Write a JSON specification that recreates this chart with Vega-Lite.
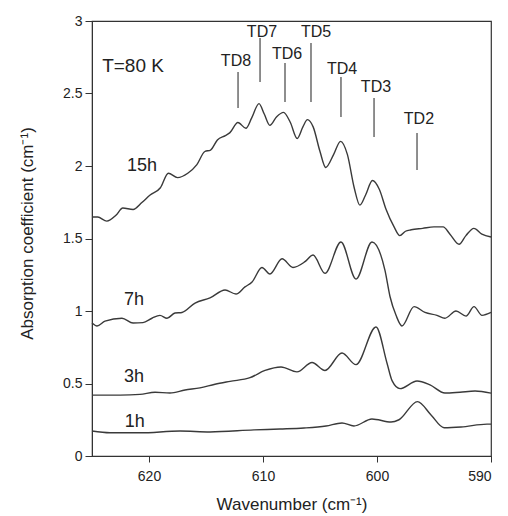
{
  "$schema": "https://vega.github.io/schema/vega-lite/v6.json",
  "width": 399,
  "height": 435,
  "autosize": "none",
  "padding": {"left": 92, "top": 21, "right": 17, "bottom": 60},
  "background": "white",
  "config": {
    "font": "Liberation Sans",
    "view": {"stroke": "#333", "strokeWidth": 1.2},
    "axis": {
      "grid": false,
      "domainColor": "#333",
      "tickColor": "#333",
      "labelColor": "#222",
      "titleColor": "#222",
      "labelFontSize": 14,
      "titleFontSize": 17,
      "titleFontWeight": "normal",
      "labelFont": "Liberation Sans",
      "titleFont": "Liberation Sans"
    }
  },
  "datasets": {
    "spectra": [
      {"series": "15h", "wn": 625.0, "a": 1.648},
      {"series": "15h", "wn": 624.5, "a": 1.648},
      {"series": "15h", "wn": 623.7, "a": 1.62},
      {"series": "15h", "wn": 622.9, "a": 1.66},
      {"series": "15h", "wn": 622.3, "a": 1.71},
      {"series": "15h", "wn": 621.4, "a": 1.70},
      {"series": "15h", "wn": 620.6, "a": 1.75},
      {"series": "15h", "wn": 619.9, "a": 1.80},
      {"series": "15h", "wn": 619.0, "a": 1.85},
      {"series": "15h", "wn": 618.3, "a": 1.95},
      {"series": "15h", "wn": 617.5, "a": 1.92},
      {"series": "15h", "wn": 616.6, "a": 1.95},
      {"series": "15h", "wn": 615.8, "a": 2.01},
      {"series": "15h", "wn": 615.1, "a": 2.10},
      {"series": "15h", "wn": 614.6, "a": 2.11},
      {"series": "15h", "wn": 614.0, "a": 2.18},
      {"series": "15h", "wn": 613.3, "a": 2.21},
      {"series": "15h", "wn": 612.9, "a": 2.23},
      {"series": "15h", "wn": 612.2, "a": 2.30},
      {"series": "15h", "wn": 611.5, "a": 2.26},
      {"series": "15h", "wn": 611.0, "a": 2.33},
      {"series": "15h", "wn": 610.35, "a": 2.43},
      {"series": "15h", "wn": 609.9, "a": 2.36},
      {"series": "15h", "wn": 609.4, "a": 2.28},
      {"series": "15h", "wn": 608.8, "a": 2.34},
      {"series": "15h", "wn": 608.2, "a": 2.37},
      {"series": "15h", "wn": 607.6, "a": 2.30},
      {"series": "15h", "wn": 607.0, "a": 2.19},
      {"series": "15h", "wn": 606.5, "a": 2.27},
      {"series": "15h", "wn": 606.1, "a": 2.32},
      {"series": "15h", "wn": 605.6, "a": 2.27},
      {"series": "15h", "wn": 605.0, "a": 2.10},
      {"series": "15h", "wn": 604.5, "a": 1.99},
      {"series": "15h", "wn": 603.8, "a": 2.08},
      {"series": "15h", "wn": 603.2, "a": 2.17},
      {"series": "15h", "wn": 602.6, "a": 2.08},
      {"series": "15h", "wn": 602.0, "a": 1.85},
      {"series": "15h", "wn": 601.5, "a": 1.73},
      {"series": "15h", "wn": 601.0, "a": 1.80},
      {"series": "15h", "wn": 600.4, "a": 1.90},
      {"series": "15h", "wn": 599.8, "a": 1.84},
      {"series": "15h", "wn": 599.2, "a": 1.70},
      {"series": "15h", "wn": 598.5, "a": 1.58},
      {"series": "15h", "wn": 598.0, "a": 1.52},
      {"series": "15h", "wn": 597.5, "a": 1.55},
      {"series": "15h", "wn": 597.0, "a": 1.56},
      {"series": "15h", "wn": 596.0, "a": 1.57},
      {"series": "15h", "wn": 595.0, "a": 1.58},
      {"series": "15h", "wn": 594.2, "a": 1.58},
      {"series": "15h", "wn": 593.6, "a": 1.53},
      {"series": "15h", "wn": 592.8, "a": 1.46},
      {"series": "15h", "wn": 592.2, "a": 1.52},
      {"series": "15h", "wn": 591.5, "a": 1.57},
      {"series": "15h", "wn": 590.8, "a": 1.53},
      {"series": "15h", "wn": 590.0, "a": 1.51},
      {"series": "7h", "wn": 625.0, "a": 0.917},
      {"series": "7h", "wn": 624.56, "a": 0.897},
      {"series": "7h", "wn": 623.86, "a": 0.93},
      {"series": "7h", "wn": 622.37, "a": 0.95},
      {"series": "7h", "wn": 621.4, "a": 0.917},
      {"series": "7h", "wn": 620.53, "a": 0.92},
      {"series": "7h", "wn": 619.74, "a": 0.95},
      {"series": "7h", "wn": 619.04, "a": 0.97},
      {"series": "7h", "wn": 618.42, "a": 0.95},
      {"series": "7h", "wn": 617.72, "a": 0.986},
      {"series": "7h", "wn": 617.11, "a": 0.99},
      {"series": "7h", "wn": 615.96, "a": 1.055},
      {"series": "7h", "wn": 614.65, "a": 1.09},
      {"series": "7h", "wn": 613.33, "a": 1.145},
      {"series": "7h", "wn": 612.37, "a": 1.117},
      {"series": "7h", "wn": 611.58, "a": 1.166},
      {"series": "7h", "wn": 610.96, "a": 1.20},
      {"series": "7h", "wn": 610.09, "a": 1.30},
      {"series": "7h", "wn": 609.39, "a": 1.255},
      {"series": "7h", "wn": 608.33, "a": 1.36},
      {"series": "7h", "wn": 607.37, "a": 1.30},
      {"series": "7h", "wn": 606.32, "a": 1.34},
      {"series": "7h", "wn": 605.61, "a": 1.386},
      {"series": "7h", "wn": 604.56, "a": 1.26},
      {"series": "7h", "wn": 603.16, "a": 1.476},
      {"series": "7h", "wn": 601.84, "a": 1.22},
      {"series": "7h", "wn": 600.44, "a": 1.476},
      {"series": "7h", "wn": 599.3, "a": 1.28},
      {"series": "7h", "wn": 598.86, "a": 1.10},
      {"series": "7h", "wn": 598.33, "a": 0.97},
      {"series": "7h", "wn": 597.81, "a": 0.897},
      {"series": "7h", "wn": 596.75, "a": 1.03},
      {"series": "7h", "wn": 595.79, "a": 0.99},
      {"series": "7h", "wn": 594.74, "a": 0.97},
      {"series": "7h", "wn": 594.04, "a": 0.95},
      {"series": "7h", "wn": 593.07, "a": 1.0},
      {"series": "7h", "wn": 592.19, "a": 0.965},
      {"series": "7h", "wn": 591.49, "a": 1.03},
      {"series": "7h", "wn": 590.79, "a": 0.97},
      {"series": "7h", "wn": 590.0, "a": 0.99},
      {"series": "3h", "wn": 625.0, "a": 0.42},
      {"series": "3h", "wn": 622.54, "a": 0.42},
      {"series": "3h", "wn": 620.79, "a": 0.425},
      {"series": "3h", "wn": 619.47, "a": 0.44},
      {"series": "3h", "wn": 618.16, "a": 0.434},
      {"series": "3h", "wn": 616.84, "a": 0.455},
      {"series": "3h", "wn": 615.53, "a": 0.47},
      {"series": "3h", "wn": 614.21, "a": 0.495},
      {"series": "3h", "wn": 612.89, "a": 0.515},
      {"series": "3h", "wn": 611.14, "a": 0.54},
      {"series": "3h", "wn": 609.82, "a": 0.59},
      {"series": "3h", "wn": 608.42, "a": 0.614},
      {"series": "3h", "wn": 607.02, "a": 0.58},
      {"series": "3h", "wn": 605.7, "a": 0.645},
      {"series": "3h", "wn": 604.56, "a": 0.59},
      {"series": "3h", "wn": 603.07, "a": 0.71},
      {"series": "3h", "wn": 601.84, "a": 0.63},
      {"series": "3h", "wn": 600.09, "a": 0.89},
      {"series": "3h", "wn": 599.12, "a": 0.64},
      {"series": "3h", "wn": 598.68, "a": 0.52},
      {"series": "3h", "wn": 597.98, "a": 0.465},
      {"series": "3h", "wn": 596.49, "a": 0.517},
      {"series": "3h", "wn": 595.35, "a": 0.49},
      {"series": "3h", "wn": 594.04, "a": 0.434},
      {"series": "3h", "wn": 592.72, "a": 0.44},
      {"series": "3h", "wn": 591.4, "a": 0.448},
      {"series": "3h", "wn": 590.0, "a": 0.434},
      {"series": "1h", "wn": 625.0, "a": 0.172},
      {"series": "1h", "wn": 623.42, "a": 0.16},
      {"series": "1h", "wn": 620.79, "a": 0.16},
      {"series": "1h", "wn": 617.28, "a": 0.172},
      {"series": "1h", "wn": 614.65, "a": 0.166},
      {"series": "1h", "wn": 610.79, "a": 0.18},
      {"series": "1h", "wn": 608.51, "a": 0.186},
      {"series": "1h", "wn": 606.4, "a": 0.193},
      {"series": "1h", "wn": 604.47, "a": 0.207},
      {"series": "1h", "wn": 603.07, "a": 0.228},
      {"series": "1h", "wn": 602.02, "a": 0.207},
      {"series": "1h", "wn": 600.44, "a": 0.255},
      {"series": "1h", "wn": 598.77, "a": 0.234},
      {"series": "1h", "wn": 598.07, "a": 0.25},
      {"series": "1h", "wn": 596.45, "a": 0.375},
      {"series": "1h", "wn": 595.26, "a": 0.283},
      {"series": "1h", "wn": 594.12, "a": 0.195},
      {"series": "1h", "wn": 592.63, "a": 0.2},
      {"series": "1h", "wn": 590.35, "a": 0.22},
      {"series": "1h", "wn": 590.0, "a": 0.22}
    ],
    "modes": [
      {"label": "TD8", "wn": 612.19, "top": 2.648, "bottom": 2.40, "text_wn": 612.37, "text_a": 2.724},
      {"label": "TD7", "wn": 610.26, "top": 2.883, "bottom": 2.579, "text_wn": 610.09, "text_a": 2.924},
      {"label": "TD6", "wn": 608.07, "top": 2.71, "bottom": 2.441, "text_wn": 607.89, "text_a": 2.772},
      {"label": "TD5", "wn": 605.79, "top": 2.848, "bottom": 2.441, "text_wn": 605.35, "text_a": 2.924},
      {"label": "TD4", "wn": 603.16, "top": 2.614, "bottom": 2.338, "text_wn": 603.07, "text_a": 2.669},
      {"label": "TD3", "wn": 600.26, "top": 2.469, "bottom": 2.2, "text_wn": 600.09, "text_a": 2.545},
      {"label": "TD2", "wn": 596.49, "top": 2.228, "bottom": 1.972, "text_wn": 596.32, "text_a": 2.324}
    ],
    "curveLabels": [
      {"label": "15h", "wn": 620.61, "a": 2.0},
      {"label": "7h", "wn": 621.32, "a": 1.076},
      {"label": "3h", "wn": 621.32, "a": 0.545},
      {"label": "1h", "wn": 621.25, "a": 0.235}
    ],
    "notes": [
      {"label": "T=80 K", "wn": 621.4, "a": 2.69}
    ]
  },
  "layer": [
    {
      "data": {"name": "spectra"},
      "mark": {"type": "line", "interpolate": "monotone", "color": "#3a3a3a", "strokeWidth": 1.4},
      "encoding": {
        "x": {
          "field": "wn",
          "type": "quantitative",
          "scale": {"domain": [590, 625], "reverse": true, "nice": false, "zero": false},
          "axis": {
            "title": "Wavenumber (cm⁻¹)",
            "values": [590, 600, 610, 620],
            "tickSize": 6,
            "labelPadding": 7,
            "titlePadding": 13,
            "format": "~g"
          }
        },
        "y": {
          "field": "a",
          "type": "quantitative",
          "scale": {"domain": [0, 3], "nice": false},
          "axis": {
            "title": "Absorption coefficient (cm⁻¹)",
            "values": [0, 0.5, 1, 1.5, 2, 2.5, 3],
            "format": "~g",
            "tickSize": 7,
            "labelPadding": 3,
            "titleX": -65,
            "titleY": 212,
            "titleAngle": -90,
            "titleAlign": "center",
            "titleBaseline": "middle"
          }
        },
        "detail": {"field": "series", "type": "nominal"}
      }
    },
    {
      "data": {"name": "modes"},
      "mark": {"type": "rule", "color": "#444", "strokeWidth": 1.2},
      "encoding": {
        "x": {"field": "wn", "type": "quantitative"},
        "y": {"field": "top", "type": "quantitative"},
        "y2": {"field": "bottom"}
      }
    },
    {
      "data": {"name": "modes"},
      "mark": {"type": "text", "fontSize": 16, "color": "#222", "align": "center", "baseline": "middle"},
      "encoding": {
        "x": {"field": "text_wn", "type": "quantitative"},
        "y": {"field": "text_a", "type": "quantitative"},
        "text": {"field": "label"}
      }
    },
    {
      "data": {"name": "curveLabels"},
      "mark": {"type": "text", "fontSize": 18, "color": "#222", "align": "center", "baseline": "middle"},
      "encoding": {
        "x": {"field": "wn", "type": "quantitative"},
        "y": {"field": "a", "type": "quantitative"},
        "text": {"field": "label"}
      }
    },
    {
      "data": {"name": "notes"},
      "mark": {"type": "text", "fontSize": 19, "color": "#222", "align": "center", "baseline": "middle"},
      "encoding": {
        "x": {"field": "wn", "type": "quantitative"},
        "y": {"field": "a", "type": "quantitative"},
        "text": {"field": "label"}
      }
    }
  ]
}
